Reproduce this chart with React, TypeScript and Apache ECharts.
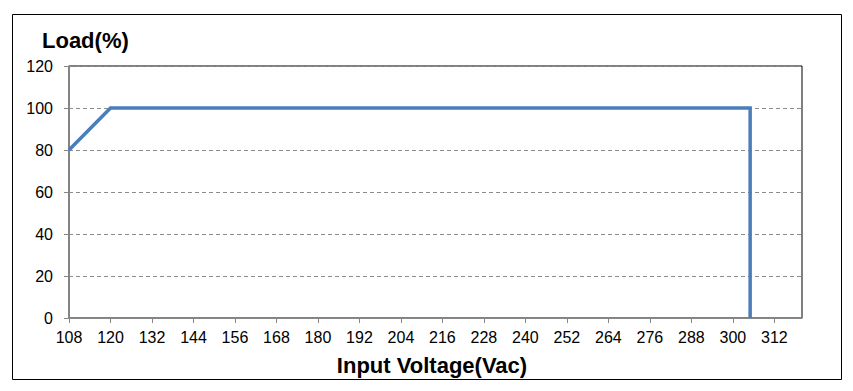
import React, { useEffect, useRef } from "react";
import * as echarts from "echarts";

const voltage = [108, 120, 305, 305];
const load = [80, 100, 100, 0];
const xMin = 108;
const xMax = 320;
const xStep = 12;
const yMin = 0;
const yMax = 120;
const yStep = 20;
const yTitle = "Load(%)";
const xTitle = "Input Voltage(Vac)";

export default function App() {
  const ref = useRef<HTMLDivElement>(null);
  useEffect(() => {
    if (!ref.current) return;
    const chart = echarts.init(ref.current, null, { renderer: "svg" });
    const font = "Arial, 'Liberation Sans', sans-serif";
    chart.setOption({
      animation: false,
      backgroundColor: "#ffffff",
      grid: {
        left: 69,
        top: 66,
        width: 733,
        height: 252,
        show: true,
        borderColor: "#000000",
        borderWidth: 1,
        backgroundColor: "transparent",
      },
      xAxis: {
        type: "value",
        min: xMin,
        max: xMax,
        interval: xStep,
        axisLine: { show: true, onZero: false, lineStyle: { color: "#868686", width: 1.5 } },
        axisTick: { show: true, length: 5, lineStyle: { color: "#868686" } },
        axisLabel: {
          showMaxLabel: false,
          margin: 11,
          color: "#000",
          fontSize: 16,
          fontFamily: font,
        },
        splitLine: { show: false },
      },
      yAxis: {
        type: "value",
        min: yMin,
        max: yMax,
        interval: yStep,
        axisLine: { show: true, lineStyle: { color: "#868686", width: 1.5 } },
        axisTick: { show: true, length: 5, lineStyle: { color: "#868686" } },
        axisLabel: {
          margin: 16,
          color: "#000",
          fontSize: 16,
          fontFamily: font,
        },
        splitLine: {
          show: true,
          lineStyle: { color: "#8c8c8c", type: [4, 3], width: 1 },
        },
      },
      graphic: [
        {
          type: "rect",
          shape: { x: 12.5, y: 14.5, width: 829, height: 365 },
          style: { fill: "none", stroke: "#000", lineWidth: 1 },
          z: 100,
        },
        {
          type: "text",
          x: 42,
          y: 40,
          style: {
            text: yTitle,
            fontSize: 22,
            fontWeight: "bold",
            fontFamily: font,
            fill: "#000",
            align: "left",
            verticalAlign: "middle",
          },
        },
        {
          type: "text",
          x: 432,
          y: 365,
          style: {
            text: xTitle,
            fontSize: 22,
            fontWeight: "bold",
            fontFamily: font,
            fill: "#000",
            align: "center",
            verticalAlign: "middle",
          },
        },
      ],
      series: [
        {
          type: "line",
          data: voltage.map((v, i) => [v, load[i]]),
          showSymbol: false,
          symbol: "none",
          lineStyle: { color: "#4A7EBB", width: 3.5, join: "miter" },
          z: 5,
        },
      ],
    });
    return () => chart.dispose();
  }, []);
  return (
    <div
      ref={ref}
      style={{ position: "fixed", left: 0, top: 0, width: 853, height: 391 }}
    />
  );
}
